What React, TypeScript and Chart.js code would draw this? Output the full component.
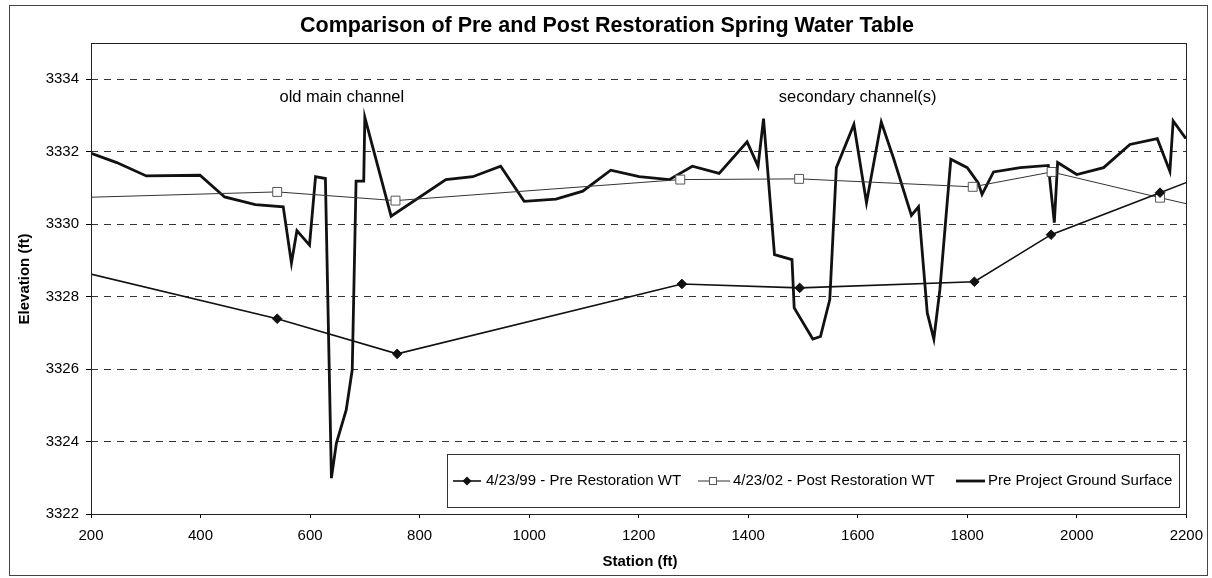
import React, { useEffect, useRef } from "react";
import { Chart, registerables } from "chart.js";

Chart.register(...registerables);

const chartTitle = "Comparison of Pre and Post Restoration Spring Water Table";
const xAxisTitle = "Station (ft)";
const yAxisTitle = "Elevation (ft)";
const xTickValues = [200, 400, 600, 800, 1000, 1200, 1400, 1600, 1800, 2000, 2200];
const yTickValues = [3322, 3324, 3326, 3328, 3330, 3332, 3334];

const seriesNames = [
  "4/23/99 - Pre Restoration WT",
  "4/23/02 - Post Restoration WT",
  "Pre Project Ground Surface",
];

const preStation = [192, 540, 759, 1279, 1494, 1813, 1953, 2152, 2207];
const preElev = [3328.65, 3327.39, 3326.42, 3328.35, 3328.24, 3328.41, 3329.71, 3330.87, 3331.19];

const postStation = [192, 540, 756, 1276, 1493, 1810, 1954, 2152, 2207];
const postElev = [3330.74, 3330.89, 3330.65, 3331.23, 3331.25, 3331.03, 3331.44, 3330.73, 3330.54];

const groundStation = [
  192, 247, 301, 399, 444, 500, 551, 566, 576, 599, 610, 628, 639, 648, 666, 677, 684, 698, 700, 748,
  848, 897, 948, 991, 1049, 1098, 1149, 1201, 1256, 1298, 1347, 1398, 1418, 1428, 1448, 1480, 1484,
  1518, 1532, 1549, 1561, 1593, 1616, 1643, 1666, 1698, 1711, 1727, 1739, 1750, 1770, 1800, 1820,
  1827, 1848, 1897, 1948, 1959, 1965, 2000, 2049, 2097, 2147, 2170, 2176, 2198, 2207,
];
const groundElev = [
  3332.0, 3331.7, 3331.33, 3331.35, 3330.75, 3330.54, 3330.48, 3328.93, 3329.82, 3329.42, 3331.31,
  3331.26, 3322.99, 3323.95, 3324.87, 3325.98, 3331.19, 3331.19, 3332.95, 3330.22, 3331.23, 3331.31,
  3331.6, 3330.63, 3330.69, 3330.91, 3331.49, 3331.31, 3331.23, 3331.6, 3331.4, 3332.27, 3331.6,
  3332.91, 3329.16, 3329.02, 3327.69, 3326.83, 3326.9, 3327.92, 3331.56, 3332.75, 3330.59, 3332.82,
  3331.79, 3330.24, 3330.48, 3327.55, 3326.83, 3328.19, 3331.79, 3331.56, 3331.14, 3330.82, 3331.44,
  3331.56, 3331.62, 3330.04, 3331.7, 3331.37, 3331.56, 3332.2, 3332.36, 3331.46, 3332.85, 3332.39,
  3332.38,
];

const annotations = [
  { text: "old main channel", station: 658, elev: 3333.5 },
  { text: "secondary channel(s)", station: 1600, elev: 3333.5 },
];

const FONT = '"Liberation Sans", Arial, Helvetica, sans-serif';

const toPoints = (xs: number[], ys: number[]) => xs.map((x, i) => ({ x, y: ys[i] }));

export default function App() {
  const ref = useRef<HTMLCanvasElement>(null);

  useEffect(() => {
    const canvas = ref.current;
    if (!canvas) return;

    const inRange = (ctx: any) => {
      const raw = ctx.raw as { x: number } | undefined;
      if (!raw) return false;
      return raw.x >= 200 && raw.x <= 2200;
    };

    const decor = {
      id: "decor",
      beforeDraw(chart: any) {
        const c = chart.ctx;
        c.save();
        c.fillStyle = "#fff";
        c.fillRect(0, 0, chart.width, chart.height);
        c.restore();
      },
      afterDraw(chart: any) {
        const c = chart.ctx as CanvasRenderingContext2D;
        const a = chart.chartArea;
        const xs = chart.scales.x;
        const ys = chart.scales.y;
        c.save();
        // plot border
        c.strokeStyle = "#222";
        c.lineWidth = 1;
        c.strokeRect(Math.round(a.left) + 0.5, Math.round(a.top) + 0.5, Math.round(a.right - a.left), Math.round(a.bottom - a.top));
        // outer frame
        c.strokeStyle = "#444";
        c.strokeRect(9.5, 5.5, 1198, 570);
        // title
        c.fillStyle = "#000";
        c.font = `bold 21.5px ${FONT}`;
        c.textAlign = "center";
        c.textBaseline = "alphabetic";
        c.fillText(chartTitle, 607, 32);
        // axis titles
        c.font = `bold 15px ${FONT}`;
        c.textBaseline = "middle";
        c.fillText(xAxisTitle, 640, 562);
        c.save();
        c.translate(25, 279);
        c.rotate(-Math.PI / 2);
        c.fillText(yAxisTitle, 0, 0);
        c.restore();
        // annotations
        c.font = `16.5px ${FONT}`;
        for (const an of annotations) {
          c.fillText(an.text, xs.getPixelForValue(an.station), ys.getPixelForValue(an.elev));
        }
        // legend
        c.fillStyle = "#fff";
        c.fillRect(447, 454, 733, 54);
        c.strokeStyle = "#333";
        c.lineWidth = 1;
        c.strokeRect(447.5, 454.5, 732, 53);
        const ly = 481;
        c.font = `15px ${FONT}`;
        c.textAlign = "left";
        c.fillStyle = "#000";
        // item 1
        c.strokeStyle = "#111";
        c.lineWidth = 1.6;
        c.beginPath();
        c.moveTo(453, ly);
        c.lineTo(481, ly);
        c.stroke();
        c.beginPath();
        c.moveTo(467 - 4.5, ly);
        c.lineTo(467, ly - 4.5);
        c.lineTo(467 + 4.5, ly);
        c.lineTo(467, ly + 4.5);
        c.closePath();
        c.fillStyle = "#111";
        c.fill();
        c.fillStyle = "#000";
        c.fillText(seriesNames[0], 486, ly);
        // item 2
        c.strokeStyle = "#333";
        c.lineWidth = 1;
        c.beginPath();
        c.moveTo(698, ly);
        c.lineTo(730, ly);
        c.stroke();
        c.fillStyle = "#fff";
        c.fillRect(709, ly - 4, 8, 8);
        c.strokeStyle = "#555";
        c.strokeRect(709.5, ly - 3.5, 7, 7);
        c.fillStyle = "#000";
        c.fillText(seriesNames[1], 733, ly);
        // item 3
        c.strokeStyle = "#111";
        c.lineWidth = 2.8;
        c.beginPath();
        c.moveTo(956, ly);
        c.lineTo(985, ly);
        c.stroke();
        c.fillText(seriesNames[2], 988, ly);
        c.restore();
      },
    };

    const chart = new Chart(canvas, {
      type: "line",
      data: {
        datasets: [
          {
            label: seriesNames[0],
            data: toPoints(preStation, preElev),
            borderColor: "#111",
            borderWidth: 1.6,
            backgroundColor: "#111",
            pointStyle: "rectRot",
            pointRadius: (ctx: any) => (inRange(ctx) ? 4.8 : 0),
            pointBackgroundColor: "#111",
            pointBorderColor: "#111",
            pointBorderWidth: 1,
            tension: 0,
          },
          {
            label: seriesNames[1],
            data: toPoints(postStation, postElev),
            borderColor: "#333",
            borderWidth: 1,
            backgroundColor: "#fff",
            pointStyle: "rect",
            pointRadius: (ctx: any) => (inRange(ctx) ? 6.3 : 0),
            pointBackgroundColor: "#fff",
            pointBorderColor: "#555",
            pointBorderWidth: 1,
            tension: 0,
          },
          {
            label: seriesNames[2],
            data: toPoints(groundStation, groundElev),
            borderColor: "#111",
            borderWidth: 2.8,
            pointRadius: 0,
            tension: 0,
          },
        ],
      },
      options: {
        responsive: false,
        animation: false,
        devicePixelRatio: 1,
        layout: { padding: { left: 0, top: 43, right: 25, bottom: 0 } },
        plugins: {
          legend: { display: false },
          title: { display: false },
          tooltip: { enabled: false },
        },
        scales: {
          x: {
            type: "linear",
            min: 200,
            max: 2200,
            afterBuildTicks: (s: any) => {
              s.ticks = xTickValues.map((v) => ({ value: v }));
            },
            afterFit: (s: any) => {
              s.height = 64;
            },
            grid: { drawOnChartArea: false, drawTicks: true, tickLength: 4, color: "#000", tickColor: "#000" },
            border: { display: false },
            ticks: {
              color: "#000",
              font: { family: FONT, size: 15 },
              padding: 9,
              maxRotation: 0,
              autoSkip: false,
              callback: (v: any) => String(v),
            },
          },
          y: {
            type: "linear",
            min: 3322,
            max: 3335,
            afterBuildTicks: (s: any) => {
              s.ticks = yTickValues.map((v) => ({ value: v }));
            },
            afterFit: (s: any) => {
              s.width = 91;
            },
            grid: { drawOnChartArea: true, drawTicks: true, tickLength: 5, color: "#333", tickColor: "#000", lineWidth: 1 },
            border: { display: false, dash: [7, 6] },
            ticks: {
              color: "#000",
              font: { family: FONT, size: 15 },
              padding: 7,
              autoSkip: false,
              callback: (v: any) => String(v),
            },
          },
        },
      } as any,
      plugins: [decor],
    });

    return () => chart.destroy();
  }, []);

  return (
    <div style={{ position: "fixed", left: 0, top: 0, width: 1212, height: 578, background: "#fff" }}>
      <canvas ref={ref} width={1212} height={578} style={{ display: "block", width: 1212, height: 578 }} />
    </div>
  );
}
